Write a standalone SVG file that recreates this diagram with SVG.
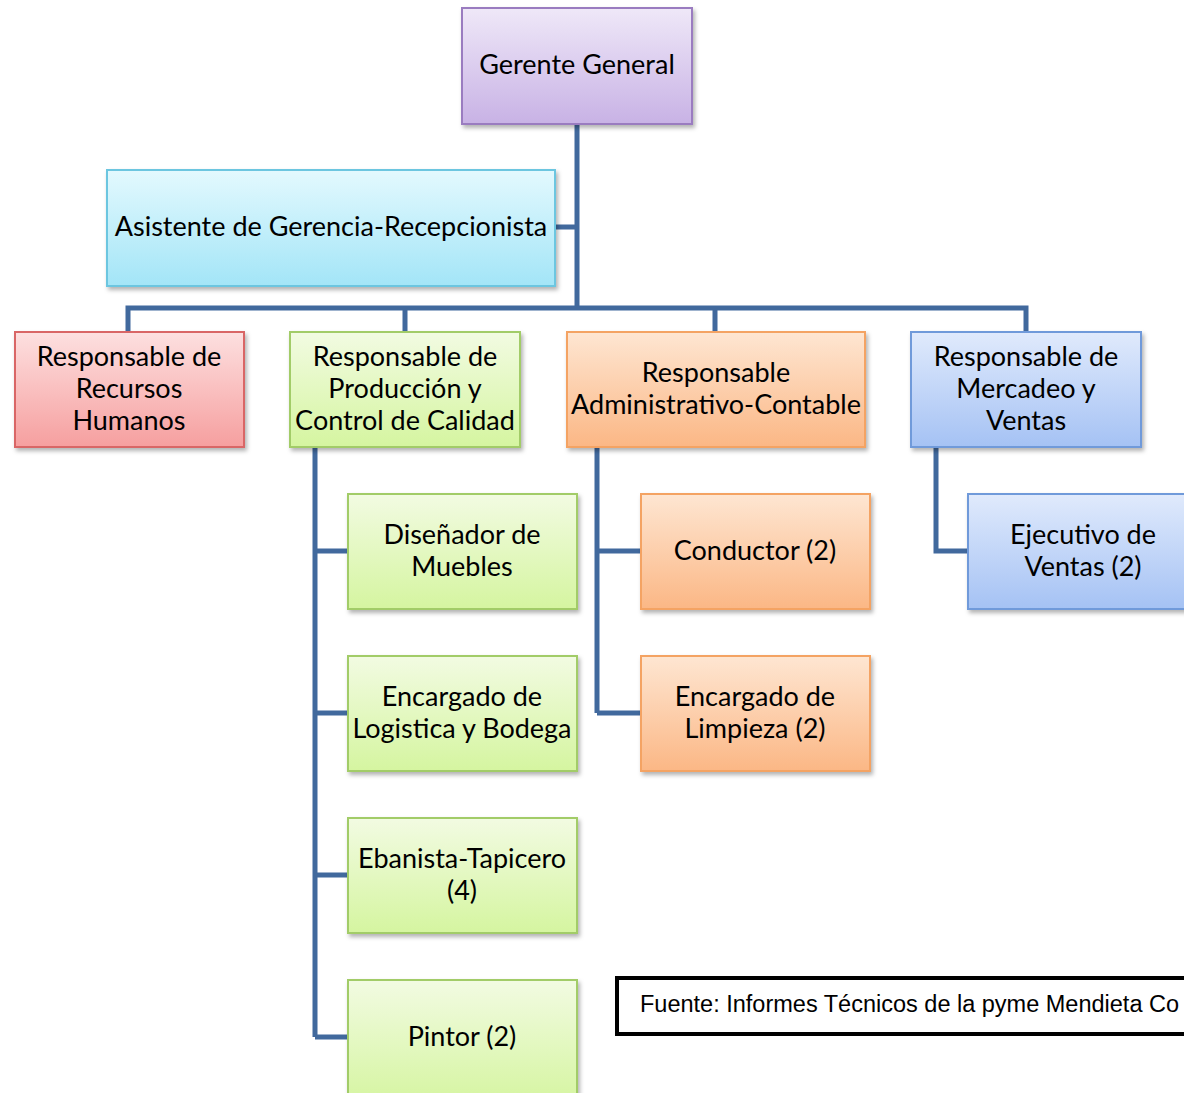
<svg xmlns="http://www.w3.org/2000/svg" width="1184" height="1093" viewBox="0 0 1184 1093">
<defs>
<linearGradient id="gPurple" x1="0" y1="0" x2="0" y2="1"><stop offset="0" stop-color="#efe8f8"/><stop offset="1" stop-color="#c8b2e5"/></linearGradient>
<linearGradient id="gCyan" x1="0" y1="0" x2="0" y2="1"><stop offset="0" stop-color="#e3f9fe"/><stop offset="1" stop-color="#a3e5f7"/></linearGradient>
<linearGradient id="gRed" x1="0" y1="0" x2="0" y2="1"><stop offset="0" stop-color="#fde0e0"/><stop offset="1" stop-color="#f69f9f"/></linearGradient>
<linearGradient id="gGreen" x1="0" y1="0" x2="0" y2="1"><stop offset="0" stop-color="#f2fbe2"/><stop offset="1" stop-color="#d5f5a0"/></linearGradient>
<linearGradient id="gOrange" x1="0" y1="0" x2="0" y2="1"><stop offset="0" stop-color="#fee6d2"/><stop offset="1" stop-color="#fbb785"/></linearGradient>
<linearGradient id="gBlue" x1="0" y1="0" x2="0" y2="1"><stop offset="0" stop-color="#e0eafc"/><stop offset="1" stop-color="#a5c2f4"/></linearGradient>
<filter id="sh" x="-10%" y="-10%" width="125%" height="130%"><feDropShadow dx="2" dy="3" stdDeviation="2" flood-color="#000" flood-opacity="0.3"/></filter>
<style>
.n{stroke-width:2;filter:url(#sh)}
.purple{fill:url(#gPurple);stroke:#9a7cc0}
.cyan{fill:url(#gCyan);stroke:#6cc6e0}
.red{fill:url(#gRed);stroke:#d96666}
.green{fill:url(#gGreen);stroke:#a2cc68}
.orange{fill:url(#gOrange);stroke:#f4a363}
.blue{fill:url(#gBlue);stroke:#709ada}
.t{font-family:Lato,"Open Sans",sans-serif;font-size:27px;fill:#000;text-anchor:middle}
.c{fill:none;stroke:#41699d;stroke-width:5}
.src{font-family:"Liberation Sans",Arial,sans-serif;font-size:23.5px;fill:#000}
</style>
</defs>
<g id="connectors">
<path class="c" d="M577 124V308M555 227H577M128 332V308H1026V332M405 308V332M715 308V332"/>
<path class="c" d="M315 447V1037M315 551H348M315 713H348M315 875H348M315 1037H348"/>
<path class="c" d="M597 447V713M597 551H641M597 713H641"/>
<path class="c" d="M936 447V551H968"/>
</g>
<g id="gerente"><rect class="n purple" x="462" y="8" width="230" height="116"/><text class="t" x="577" y="74">Gerente General</text></g>
<g id="asistente"><rect class="n cyan" x="107" y="170" width="448" height="116"/><text class="t" x="331" y="236">Asistente de Gerencia-Recepcionista</text></g>
<g id="rrhh"><rect class="n red" x="15" y="332" width="229" height="115"/><text class="t" x="129" y="366">Responsable de</text><text class="t" x="129" y="398">Recursos</text><text class="t" x="129" y="430">Humanos</text></g>
<g id="produccion"><rect class="n green" x="290" y="332" width="230" height="115"/><text class="t" x="405" y="366">Responsable de</text><text class="t" x="405" y="398">Producción y</text><text class="t" x="405" y="430">Control de Calidad</text></g>
<g id="administrativo"><rect class="n orange" x="567" y="332" width="298" height="115"/><text class="t" x="716" y="382">Responsable</text><text class="t" x="716" y="414">Administrativo-Contable</text></g>
<g id="mercadeo"><rect class="n blue" x="911" y="332" width="230" height="115"/><text class="t" x="1026" y="366">Responsable de</text><text class="t" x="1026" y="398">Mercadeo y</text><text class="t" x="1026" y="430">Ventas</text></g>
<g id="disenador"><rect class="n green" x="348" y="494" width="229" height="115"/><text class="t" x="462" y="544">Diseñador de</text><text class="t" x="462" y="576">Muebles</text></g>
<g id="logistica"><rect class="n green" x="348" y="656" width="229" height="115"/><text class="t" x="462" y="706">Encargado de</text><text class="t" x="462" y="738">Logistica y Bodega</text></g>
<g id="ebanista"><rect class="n green" x="348" y="818" width="229" height="115"/><text class="t" x="462" y="868">Ebanista-Tapicero</text><text class="t" x="462" y="900">(4)</text></g>
<g id="pintor"><rect class="n green" x="348" y="980" width="229" height="125"/><text class="t" x="462" y="1046">Pintor (2)</text></g>
<g id="conductor"><rect class="n orange" x="641" y="494" width="229" height="115"/><text class="t" x="755" y="560">Conductor (2)</text></g>
<g id="limpieza"><rect class="n orange" x="641" y="656" width="229" height="115"/><text class="t" x="755" y="706">Encargado de</text><text class="t" x="755" y="738">Limpieza (2)</text></g>
<g id="ejecutivo"><rect class="n blue" x="968" y="494" width="230" height="115"/><text class="t" x="1083" y="544">Ejecutivo de</text><text class="t" x="1083" y="576">Ventas (2)</text></g>
<g id="fuente"><rect x="617" y="978" width="600" height="56" fill="#fff" stroke="#000" stroke-width="4"/><text class="src" x="640" y="1012">Fuente: Informes Técnicos de la pyme Mendieta Co</text></g>
</svg>
